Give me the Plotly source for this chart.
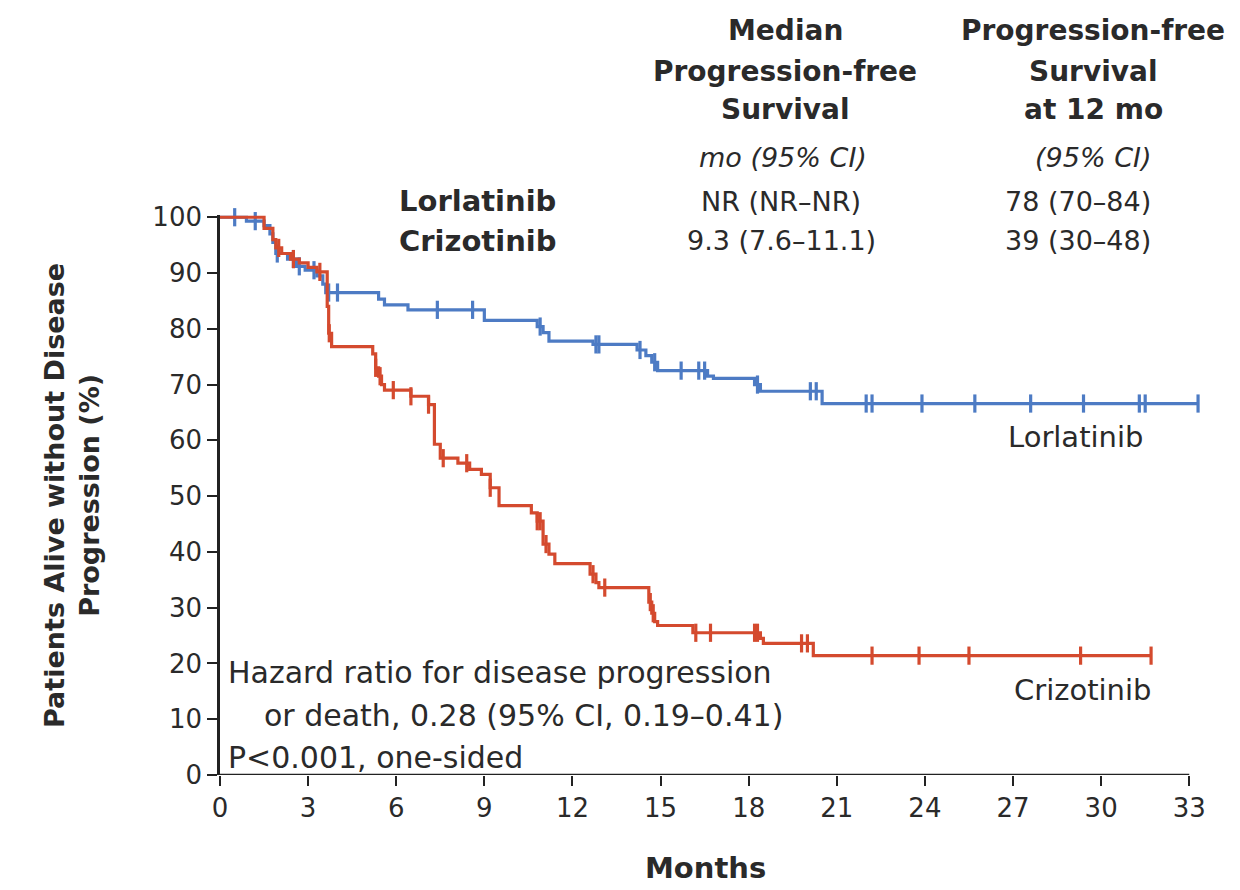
import numpy as np
import plotly.graph_objects as go

# Kaplan-Meier step points: time (months) and survival (%) after each step
lor_t = [0, 0.9, 1.5, 1.7, 1.8, 1.9, 2.3, 2.6, 2.9, 3.3, 3.5, 3.6, 5.4, 5.6, 6.4, 9.0,
         10.8, 11.0, 11.2, 12.7, 14.2, 14.5, 14.7, 14.9, 16.6, 16.8, 18.2, 18.4, 20.5, 33.3]
lor_s = [100, 99.3, 98.5, 97, 95.5, 93.5, 92.5, 91.2, 90.5, 89.5, 88, 86.5, 85.3, 84.3, 83.4, 81.5,
         80.4, 79.3, 77.8, 77.2, 76.2, 75.2, 74.0, 72.5, 71.5, 71.1, 70.0, 68.8, 66.6, 66.6]
lor_cens = [0.5, 1.2, 1.95, 2.5, 2.7, 3.2, 3.7, 4.0, 7.4, 8.6, 10.9, 12.8, 12.9, 14.3, 14.8,
            15.7, 16.3, 16.5, 18.3, 20.1, 20.3, 22.0, 22.2, 23.9, 25.7, 27.6, 29.4, 31.3, 31.5, 33.3]

criz_t = [0, 1.5, 1.8, 1.9, 2.1, 2.4, 2.7, 3.0, 3.3, 3.65, 3.7, 3.8, 5.2, 5.3, 5.4, 5.5, 5.6,
          6.5, 7.1, 7.3, 7.5, 8.1, 8.5, 8.9, 9.2, 9.5, 10.6, 10.8, 11.0, 11.2, 11.4, 12.6, 12.8,
          12.9, 14.6, 14.7, 14.8, 14.9, 16.1, 18.4, 18.5, 20.2, 31.7]
criz_s = [100, 98, 96, 94.5, 93.5, 92.5, 91.8, 91, 90.2, 84, 79.2, 76.8, 75.5, 73, 71.5, 70, 69,
          67.9, 66.4, 59.3, 56.8, 55.9, 54.8, 53.9, 51.5, 48.3, 47, 45.5, 41.4, 39.6, 37.9, 36, 34.5,
          33.6, 31, 29, 27.5, 26.8, 25.5, 24.5, 23.6, 21.4, 21.4]
criz_cens = [2.0, 2.5, 3.4, 3.72, 5.3, 5.45, 5.9, 6.5, 7.1, 7.6, 8.4, 9.2, 10.8, 10.9, 11.1,
             12.7, 13.1, 14.65, 14.75, 16.2, 16.7, 18.2, 18.3, 19.8, 20.0, 22.2, 23.8, 25.5,
             29.3, 31.7]

x_ticks = list(range(0, 34, 3))
y_ticks = list(range(0, 101, 10))

BLUE = "#4d7bc4"
RED = "#d44a2e"
TXT = "#2a2a2a"
AX = "#222222"
FONT = "DejaVu Sans"

X_MAX = 33.4   # room for the last censored Lorlatinib patient just past 33


def surv_at(times, surv, t):
    idx = np.searchsorted(np.asarray(times), t, side="right") - 1
    return np.asarray(surv)[idx]


fig = go.Figure()
for t, s, c, col in [(lor_t, lor_s, lor_cens, BLUE), (criz_t, criz_s, criz_cens, RED)]:
    fig.add_trace(go.Scatter(x=t, y=s, mode="lines", line=dict(color=col, width=3.2, shape="hv"),
                             cliponaxis=False, showlegend=False, hoverinfo="skip"))
    fig.add_trace(go.Scatter(x=c, y=surv_at(t, s, c), mode="markers",
                             marker=dict(symbol="line-ns", size=13, line=dict(color=col, width=3.2)),
                             cliponaxis=False, showlegend=False, hoverinfo="skip"))

# plot area in pixels; 0..33 months spans 220..1189
L, T, B = 220, 215, 775
PX_PER_MONTH = (1189 - 220) / 33
R = L + X_MAX * PX_PER_MONTH


def px(x):
    return (x - L) / (R - L)


def py(y):
    return (B - y) / (B - T)


ann = []


def text(x, y, s, size=28, bold=False, italic=False, xa="center"):
    if bold:
        s = "<b>" + s + "</b>"
    if italic:
        s = "<i>" + s + "</i>"
    ann.append(dict(x=px(x), y=py(y), xref="paper", yref="paper", text=s, showarrow=False,
                    xanchor=xa, yanchor="middle", align="center",
                    font=dict(family=FONT, size=size, color=TXT)))


# header table
text(785, 30, "Median", bold=True, size=28)
text(785, 71, "Progression-free", bold=True, size=28)
text(785, 109, "Survival", bold=True, size=28)
text(1093, 30, "Progression-free", bold=True, size=28)
text(1093, 71, "Survival", bold=True, size=28)
text(1093, 109, "at 12 mo", bold=True, size=28)
text(783, 158, "mo (95% CI)", italic=True, size=27)
text(1093, 158, "(95% CI)", italic=True, size=27)
text(558, 201, "Lorlatinib", bold=True, xa="right", size=29)
text(558, 241, "Crizotinib", bold=True, xa="right", size=29)
text(781, 201, "NR (NR\u2013NR)", size=27)
text(781, 241, "9.3 (7.6\u201311.1)", size=27)
text(1078, 201, "78 (70\u201384)", size=27)
text(1078, 241, "39 (30\u201348)", size=27)

# curve labels and statistics
text(1075, 437, "Lorlatinib", size=29)
text(1082, 690, "Crizotinib", size=29)
text(226, 672, "Hazard ratio for disease progression", size=30, xa="left")
text(262, 715, "or death, 0.28 (95% CI, 0.19\u20130.41)", size=30, xa="left")
text(226, 757, "P<0.001, one-sided", size=30, xa="left")

# axis titles
text(705, 868, "Months", bold=True, size=29)
ann.append(dict(x=px(72), y=py(495), xref="paper", yref="paper",
                text="<b>Patients Alive without Disease<br>Progression (%)</b>",
                showarrow=False, textangle=-90, align="center",
                xanchor="center", yanchor="middle",
                font=dict(family=FONT, size=27, color=TXT)))

fig.update_layout(
    width=1240, height=890,
    margin=dict(l=L, r=1240 - R, t=T, b=890 - B, pad=0),
    paper_bgcolor="white", plot_bgcolor="white",
    annotations=ann,
    # x axis baseline stops at the last tick (33 months)
    shapes=[dict(type="line", xref="x", yref="y", x0=0, x1=33, y0=0, y1=0,
                 line=dict(color=AX, width=2.6), layer="above")],
    xaxis=dict(range=[0, X_MAX], tickvals=x_ticks, ticks="outside", ticklen=10, tickwidth=2.2,
               tickcolor=AX, showline=False, showgrid=False, zeroline=False,
               tickfont=dict(family=FONT, size=26, color=TXT)),
    yaxis=dict(range=[0, 100.4], tickvals=y_ticks, ticks="outside", ticklen=10, tickwidth=2.2,
               tickcolor=AX, showline=True, linecolor=AX, linewidth=2.6,
               showgrid=False, zeroline=False,
               tickfont=dict(family=FONT, size=26, color=TXT)),
)

fig.write_html("out.html")
